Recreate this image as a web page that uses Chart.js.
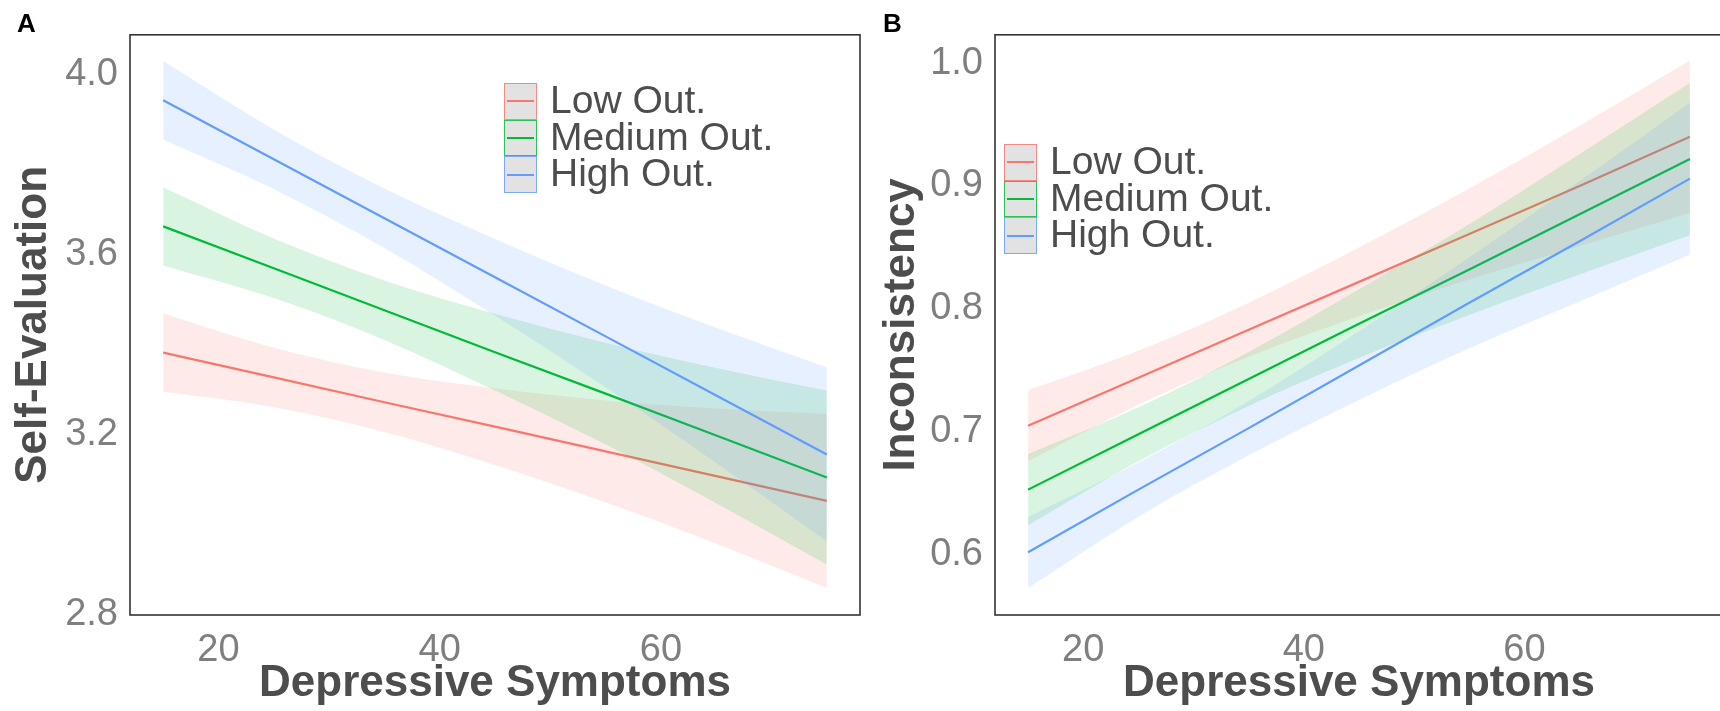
<!DOCTYPE html>
<html><head><meta charset="utf-8">
<script src="https://cdn.jsdelivr.net/npm/chart.js@4.4.1/dist/chart.umd.min.js"></script>
<style>
html,body{margin:0;padding:0;width:1720px;height:711px;overflow:hidden;background:#fff;font-family:"Liberation Sans",Arial,sans-serif;}
.panel{position:absolute;top:0;height:711px;}
.tag{position:absolute;font-weight:bold;font-size:26px;line-height:26px;color:#000;}
.legend{position:absolute;}
.item{display:flex;align-items:center;height:36.7px;}
.key{box-sizing:border-box;width:33px;height:36.7px;background:#e2e2e2;border:1.5px solid;position:relative;}
.key i{position:absolute;left:2px;right:2px;top:50%;height:2px;margin-top:-1px;}
.lab{margin-left:13px;font-size:39px;color:#4d4d4d;position:relative;top:-1.5px;white-space:nowrap;}
</style></head>
<body>
<div class="panel" style="left:0;width:866px"><canvas id="cA" width="866" height="711"></canvas></div>
<div class="panel" style="left:866px;width:864px"><canvas id="cB" width="864" height="711"></canvas></div>
<div class="tag" style="left:17px;top:10px">A</div>
<div class="tag" style="left:883px;top:10px">B</div>
<div class="legend" id="legA" style="left:504px;top:83px"></div>
<div class="legend" id="legB" style="left:1004px;top:144px"></div>
<script>
// ---- data ----
const xValues = [15, 25, 35, 45, 55, 65, 75];
const groupNames = ['Low Out.', 'Medium Out.', 'High Out.'];
const xTicks = [20, 40, 60];

// Panel A: Self-Evaluation
const selfEvalTicks = [2.8, 3.2, 3.6, 4.0];
const selfEvalLow       = [3.382, 3.327, 3.272, 3.218, 3.163, 3.108, 3.053];
const selfEvalLowUpper  = [3.469, 3.393, 3.338, 3.303, 3.276, 3.258, 3.246];
const selfEvalLowLower  = [3.295, 3.261, 3.206, 3.133, 3.050, 2.958, 2.860];
const selfEvalMed       = [3.662, 3.569, 3.476, 3.383, 3.291, 3.198, 3.105];
const selfEvalMedUpper  = [3.749, 3.635, 3.542, 3.468, 3.404, 3.348, 3.298];
const selfEvalMedLower  = [3.575, 3.503, 3.410, 3.298, 3.178, 3.048, 2.912];
const selfEvalHigh      = [3.942, 3.811, 3.680, 3.549, 3.418, 3.287, 3.156];
const selfEvalHighUpper = [4.029, 3.877, 3.746, 3.634, 3.531, 3.437, 3.349];
const selfEvalHighLower = [3.855, 3.745, 3.614, 3.464, 3.305, 3.137, 2.963];

// Panel B: Inconsistency
const inconTicks = [0.6, 0.7, 0.8, 0.9, 1.0];
const inconLow       = [0.705, 0.744, 0.783, 0.822, 0.861, 0.900, 0.940];
const inconLowUpper  = [0.734, 0.766, 0.805, 0.850, 0.898, 0.949, 1.002];
const inconLowLower  = [0.676, 0.722, 0.761, 0.794, 0.824, 0.851, 0.878];
const inconMed       = [0.653, 0.698, 0.743, 0.788, 0.832, 0.877, 0.922];
const inconMedUpper  = [0.682, 0.720, 0.765, 0.816, 0.869, 0.926, 0.984];
const inconMedLower  = [0.624, 0.676, 0.721, 0.760, 0.795, 0.828, 0.860];
const inconHigh      = [0.602, 0.653, 0.703, 0.754, 0.805, 0.855, 0.906];
const inconHighUpper = [0.631, 0.675, 0.725, 0.782, 0.842, 0.904, 0.968];
const inconHighLower = [0.573, 0.631, 0.681, 0.726, 0.768, 0.806, 0.844];

// ---- styles ----
const lineColors = ['#F8766D', '#00BA38', '#619CFF'];
const bandColors = ['rgba(248,118,109,0.15)', 'rgba(0,186,56,0.15)', 'rgba(97,156,255,0.15)'];
const keyBorders = ['rgba(248,118,109,0.8)', 'rgba(0,186,56,0.8)', 'rgba(97,156,255,0.8)'];
const FONT = '"Liberation Sans", Arial, sans-serif';

const pts = arr => arr.map((v, i) => ({x: xValues[i], y: v}));

function buildDatasets(groups) {
  const ds = [];
  groups.forEach((g, i) => {
    const base = 6 - 2 * i;
    ds.push({label: groupNames[i] + ' upper', data: pts(g.upper), borderWidth: 0, pointRadius: 0,
      backgroundColor: bandColors[i], fill: '+1', order: base, cubicInterpolationMode: 'monotone'});
    ds.push({label: groupNames[i] + ' lower', data: pts(g.lower), borderWidth: 0, pointRadius: 0,
      fill: false, order: base, cubicInterpolationMode: 'monotone'});
    ds.push({label: groupNames[i], data: pts(g.line), borderColor: lineColors[i], borderWidth: 2.2,
      pointRadius: 0, fill: false, order: base - 1});
  });
  return ds;
}

const boxPlugin = {
  id: 'box',
  afterDraw(chart) {
    const {ctx, chartArea: a} = chart;
    ctx.save();
    ctx.strokeStyle = '#333';
    ctx.lineWidth = 1.6;
    ctx.strokeRect(a.left, a.top, a.right - a.left, a.bottom - a.top);
    ctx.restore();
  }
};

function makeChart(id, groups, yMin, yMax, yTicks, yTitle, yWidth, titlePad, padRight) {
  return new Chart(document.getElementById(id), {
    type: 'line',
    data: {datasets: buildDatasets(groups)},
    plugins: [boxPlugin],
    options: {
      responsive: false, animation: false, devicePixelRatio: 1,
      layout: {padding: {top: 13, right: padRight, left: 0, bottom: 0}},
      plugins: {legend: {display: false}, tooltip: {enabled: false}},
      scales: {
        x: {
          type: 'linear', min: 12, max: 78,
          grid: {display: false, drawTicks: false}, border: {display: false},
          afterBuildTicks: s => { s.ticks = xTicks.map(v => ({value: v})); },
          afterFit: s => { s.height = 96; },
          ticks: {padding: 13, color: '#7f7f7f', font: {family: FONT, size: 38, lineHeight: 1.2},
            callback: v => String(v)},
          title: {display: true, text: 'Depressive Symptoms', color: '#4d4d4d',
            font: {family: FONT, size: 44, weight: 'bold', lineHeight: 1}, padding: {top: 0, bottom: 5}}
        },
        y: {
          type: 'linear', min: yMin, max: yMax,
          grid: {display: false, drawTicks: false}, border: {display: false},
          afterBuildTicks: s => { s.ticks = yTicks.map(v => ({value: v})); },
          afterFit: s => { s.width = yWidth; },
          ticks: {padding: 12, color: '#7f7f7f', font: {family: FONT, size: 38, lineHeight: 1.2},
            callback: v => Number(v).toFixed(1)},
          title: {display: true, text: yTitle, color: '#4d4d4d',
            font: {family: FONT, size: 44, weight: 'bold', lineHeight: 1}, padding: {top: titlePad, bottom: 0}}
        }
      }
    }
  });
}

makeChart('cA', [
  {line: selfEvalLow, upper: selfEvalLowUpper, lower: selfEvalLowLower},
  {line: selfEvalMed, upper: selfEvalMedUpper, lower: selfEvalMedLower},
  {line: selfEvalHigh, upper: selfEvalHighUpper, lower: selfEvalHighLower}
], 2.8, 4.087, selfEvalTicks, 'Self-Evaluation', 130, 12, 6);

makeChart('cB', [
  {line: inconLow, upper: inconLowUpper, lower: inconLowLower},
  {line: inconMed, upper: inconMedUpper, lower: inconMedLower},
  {line: inconHigh, upper: inconHighUpper, lower: inconHighLower}
], 0.551, 1.023, inconTicks, 'Inconsistency', 129, 14, 7);

function buildLegend(id) {
  const el = document.getElementById(id);
  groupNames.forEach((name, i) => {
    const item = document.createElement('div');
    item.className = 'item';
    const key = document.createElement('div');
    key.className = 'key';
    key.style.borderColor = keyBorders[i];
    const bar = document.createElement('i');
    bar.style.background = lineColors[i];
    key.appendChild(bar);
    const lab = document.createElement('span');
    lab.className = 'lab';
    lab.textContent = name;
    item.appendChild(key);
    item.appendChild(lab);
    el.appendChild(item);
  });
}
buildLegend('legA');
buildLegend('legB');
</script>
</body></html>
